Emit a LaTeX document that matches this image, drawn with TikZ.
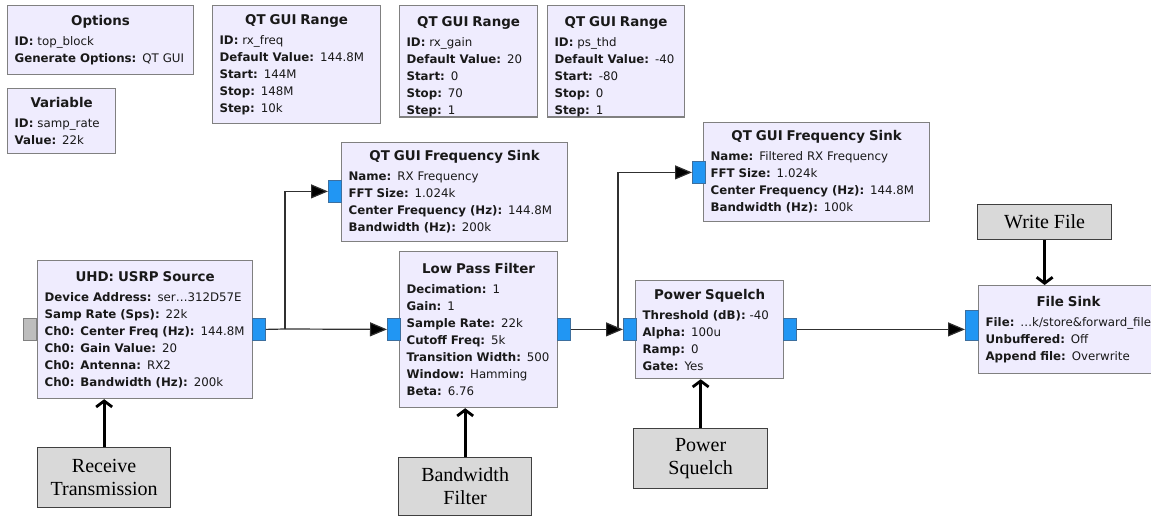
\documentclass[tikz,border=0pt]{standalone}
\usepackage{fontspec}
\usetikzlibrary{arrows.meta}
\newfontfamily\grcfont{DejaVu Sans}
\newfontfamily\capfont{Liberation Serif}
\newcommand\grcp{\grcfont\fontsize{11.8}{17}\selectfont}
\newcommand\grct{\grcfont\bfseries\fontsize{13.4}{17}\selectfont}
% block title; the optional argument is a strut that pushes the text block down
\newcommand\blktitle[2][0pt]{\makebox[\linewidth][c]{\rule{0pt}{#1}\grct #2}\\[3pt]}
\newcommand\pkv[2]{\mbox{\textbf{#1:} #2}}
\definecolor{blkfill}{HTML}{EFECFE}
\definecolor{blkborder}{HTML}{808080}
\definecolor{portblue}{HTML}{2196F3}
\definecolor{portborder}{HTML}{3D6F9E}
\definecolor{portgray}{HTML}{BDBDBD}
\definecolor{conncol}{HTML}{303030}
\definecolor{capfill}{HTML}{D9D9D9}
\definecolor{capborder}{HTML}{404040}
\tikzset{
  blk/.style={draw=blkborder, fill=blkfill, line width=1.2pt, anchor=north west,
    inner xsep=7pt, inner ysep=0pt, align=left, font=\grcp, text=black!90},
  portb/.style={draw=portborder, fill=portblue, line width=0.8pt, anchor=north west,
    minimum width=13pt, minimum height=22pt, inner sep=0pt},
  portg/.style={portb, draw=blkborder, fill=portgray},
  conn/.style={draw=conncol, line width=1.2pt},
  arr/.style={conn, -{Triangle[length=17pt,width=14pt,fill=black]}},
  capbox/.style={draw=capborder, fill=capfill, line width=1.3pt, anchor=north west,
    inner sep=0pt, align=center, font=\capfont\fontsize{20}{23}\selectfont},
  thk/.style={draw=black, line width=2.8pt, -{Straight Barb[length=6pt,width=16pt]}}
}
\begin{document}
\begin{tikzpicture}[x=1pt, y=-1pt]
\useasboundingbox (0,0) rectangle (1151,516);

% variable and GUI blocks along the top
\node[blk, minimum width=186, minimum height=69, text width=172] (opt) at (7,5)
  {\blktitle{Options}\pkv{ID}{top\_block}\\ \pkv{Generate Options}{QT GUI}};
\node[blk, minimum width=108, minimum height=65, text width=94] (var) at (7,88)
  {\blktitle{Variable}\pkv{ID}{samp\_rate}\\ \pkv{Value}{22k}};
\node[blk, minimum width=168, minimum height=118, text width=154] (rxf) at (212,5)
  {\blktitle{QT GUI Range}\pkv{ID}{rx\_freq}\\ \pkv{Default Value}{144.8M}\\ \pkv{Start}{144M}\\ \pkv{Stop}{148M}\\ \pkv{Step}{10k}};
\node[blk, minimum width=138, minimum height=108, text width=124] (rxg) at (399,5)
  {\blktitle[21pt]{QT GUI Range}\pkv{ID}{rx\_gain}\\ \pkv{Default Value}{20}\\ \pkv{Start}{0}\\ \pkv{Stop}{70}\\ \pkv{Step}{1}};
\node[blk, minimum width=137, minimum height=108, text width=123] (psr) at (547,5)
  {\blktitle[21pt]{QT GUI Range}\pkv{ID}{ps\_thd}\\ \pkv{Default Value}{-40}\\ \pkv{Start}{-80}\\ \pkv{Stop}{0}\\ \pkv{Step}{1}};

% signal-processing blocks
\node[blk, minimum width=215, minimum height=138, text width=201] (usrp) at (37,260)
  {\blktitle{UHD: USRP Source}\pkv{Device Address}{ser…312D57E}\\ \pkv{Samp Rate (Sps)}{22k}\\
   \pkv{Ch0: Center Freq (Hz)}{144.8M}\\ \pkv{Ch0: Gain Value}{20}\\ \pkv{Ch0: Antenna}{RX2}\\ \pkv{Ch0: Bandwidth (Hz)}{200k}};
\node[portg] (uin) at (23,318) {};
\node[portb] (uout) at (252,318) {};

\node[blk, minimum width=226, minimum height=99, text width=212] (fs1) at (341,142)
  {\blktitle{QT GUI Frequency Sink}\pkv{Name}{RX Frequency}\\ \pkv{FFT Size}{1.024k}\\
   \pkv{Center Frequency (Hz)}{144.8M}\\ \pkv{Bandwidth (Hz)}{200k}};
\node[portb] (s1in) at (328,180) {};

\node[blk, minimum width=158, minimum height=156, text width=144] (lpf) at (399,251)
  {\blktitle{Low Pass Filter}\pkv{Decimation}{1}\\ \pkv{Gain}{1}\\ \pkv{Sample Rate}{22k}\\
   \pkv{Cutoff Freq}{5k}\\ \pkv{Transition Width}{500}\\ \pkv{Window}{Hamming}\\ \pkv{Beta}{6.76}};
\node[portb] (lin) at (387,318) {};
\node[portb] (lout) at (557,318) {};

\node[blk, minimum width=148, minimum height=98, text width=134] (ps) at (635,280)
  {\blktitle{Power Squelch}\pkv{Threshold (dB)}{-40}\\ \pkv{Alpha}{100u}\\ \pkv{Ramp}{0}\\ \pkv{Gate}{Yes}};
\node[portb] (pin) at (623,318) {};
\node[portb] (pout) at (783,318) {};

\node[blk, minimum width=226, minimum height=99, text width=212] (fs2) at (703,122)
  {\blktitle{QT GUI Frequency Sink}\pkv{Name}{Filtered RX Frequency}\\ \pkv{FFT Size}{1.024k}\\
   \pkv{Center Frequency (Hz)}{144.8M}\\ \pkv{Bandwidth (Hz)}{100k}};
\node[portb] (s2in) at (692,161) {};

\node[blk, minimum width=180, minimum height=88, text width=166] (fsink) at (978,285)
  {\blktitle{File Sink}\pkv{File}{…k/store\&forward\_file}\\ \pkv{Unbuffered}{Off}\\ \pkv{Append file}{Overwrite}};
\node[portb, minimum height=30] (fin) at (965,310) {};

% flow-graph connections
\coordinate (j1) at (285,329);
\coordinate (j2) at (618,329);
\draw[conn] (uout.east) -- (j1);
\draw[arr] (j1) -- (lin.west);
\draw[arr] (j1) |- (s1in.west);
\draw[arr] (lout.east) -- (pin.west);
\draw[arr] (j2) |- (s2in.west);
\draw[arr] (pout.east) -- (pout.east -| fin.west);

% annotation boxes
\node[capbox, minimum width=133, minimum height=60] (rt) at (37,447) {Receive\\Transmission};
\node[capbox, minimum width=133, minimum height=58] (bf) at (398,457) {Bandwidth\\Filter};
\node[capbox, minimum width=134, minimum height=60] (psq) at (633,428) {Power\\Squelch};
\node[capbox, minimum width=134, minimum height=35] (wf) at (977,204) {Write File};

\draw[thk] (rt.north) -- (rt.north |- usrp.south);
\draw[thk] (bf.north) -- (bf.north |- lpf.south);
\draw[thk] (psq.north) -- (psq.north |- ps.south);
\draw[thk] (wf.south) -- (wf.south |- fsink.north);
\end{tikzpicture}
\end{document}
